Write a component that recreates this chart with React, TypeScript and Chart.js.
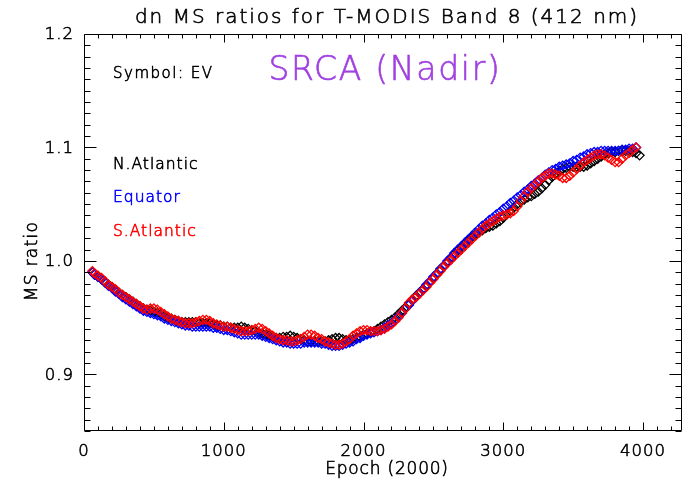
import React, { useEffect, useRef } from 'react';
import { Chart, registerables } from 'chart.js';

Chart.register(...registerables);

// ---------- data ----------
const epochs = [
  60, 75, 100, 125, 150, 175, 200, 225, 250, 275,
  300, 325, 350, 375, 400, 425, 450, 475, 500, 525,
  550, 575, 600, 625, 650, 675, 700, 725, 750, 775,
  800, 825, 850, 875, 900, 925, 950, 975, 1000, 1025,
  1050, 1075, 1100, 1125, 1150, 1175, 1200, 1225, 1250, 1275,
  1300, 1325, 1350, 1375, 1400, 1425, 1450, 1475, 1500, 1525,
  1550, 1575, 1600, 1625, 1650, 1675, 1700, 1725, 1750, 1775,
  1800, 1825, 1850, 1875, 1900, 1925, 1950, 1975, 2000, 2025,
  2050, 2075, 2100, 2125, 2150, 2175, 2200, 2225, 2250, 2275,
  2300, 2325, 2350, 2375, 2400, 2425, 2450, 2475, 2500, 2525,
  2550, 2575, 2600, 2625, 2650, 2675, 2700, 2725, 2750, 2775,
  2800, 2825, 2850, 2875, 2900, 2925, 2950, 2975, 3000, 3025,
  3050, 3075, 3100, 3125, 3150, 3175, 3200, 3225, 3250, 3275,
  3300, 3325, 3350, 3375, 3400, 3425, 3450, 3475, 3500, 3525,
  3550, 3575, 3600, 3625, 3650, 3675, 3700, 3725, 3750, 3775,
  3800, 3825, 3850, 3875, 3900, 3925, 3950, 3975,
];

const nAtlantic = [
  0.990, 0.988, 0.986, 0.984, 0.981, 0.979, 0.977, 0.974, 0.972, 0.970,
  0.968, 0.966, 0.964, 0.962, 0.960, 0.958, 0.957, 0.956, 0.955, 0.954,
  0.953, 0.951, 0.950, 0.949, 0.948, 0.947, 0.946, 0.946, 0.946, 0.946,
  0.946, 0.945, 0.945, 0.945, 0.945, 0.944, 0.943, 0.943, 0.942, 0.942,
  0.941, 0.941, 0.941, 0.942, 0.941, 0.940, 0.939, 0.938, 0.937, 0.936,
  0.935, 0.934, 0.933, 0.932, 0.932, 0.933, 0.933, 0.934, 0.933, 0.932,
  0.931, 0.930, 0.929, 0.929, 0.929, 0.929, 0.929, 0.929, 0.930, 0.931,
  0.932, 0.932, 0.931, 0.930, 0.930, 0.931, 0.932, 0.933, 0.935, 0.936,
  0.937, 0.938, 0.940, 0.942, 0.944, 0.946, 0.948, 0.950, 0.953, 0.956,
  0.959, 0.962, 0.966, 0.969, 0.972, 0.975, 0.978, 0.981, 0.985, 0.988,
  0.992, 0.995, 0.999, 1.002, 1.006, 1.009, 1.012, 1.015, 1.018, 1.021,
  1.023, 1.025, 1.027, 1.029, 1.030, 1.031, 1.033, 1.035, 1.038, 1.041,
  1.044, 1.047, 1.050, 1.052, 1.054, 1.056, 1.057, 1.059, 1.061, 1.064,
  1.067, 1.071, 1.074, 1.077, 1.079, 1.081, 1.082, 1.083, 1.083, 1.083,
  1.083, 1.083, 1.084, 1.086, 1.088, 1.090, 1.092, 1.094, 1.095, 1.096,
  1.096, 1.097, 1.097, 1.097, 1.097, 1.096, 1.095, 1.093,
];

const equator = [
  0.990, 0.988, 0.986, 0.984, 0.981, 0.978, 0.976, 0.973, 0.971, 0.968,
  0.966, 0.964, 0.962, 0.960, 0.958, 0.956, 0.955, 0.954, 0.953, 0.952,
  0.951, 0.949, 0.948, 0.947, 0.946, 0.945, 0.944, 0.943, 0.943, 0.942,
  0.942, 0.942, 0.942, 0.942, 0.942, 0.941, 0.941, 0.940, 0.939, 0.939,
  0.938, 0.937, 0.936, 0.935, 0.935, 0.935, 0.935, 0.935, 0.935, 0.934,
  0.933, 0.932, 0.931, 0.930, 0.929, 0.928, 0.928, 0.927, 0.927, 0.927,
  0.927, 0.928, 0.928, 0.928, 0.928, 0.928, 0.927, 0.927, 0.926, 0.925,
  0.925, 0.925, 0.926, 0.927, 0.928, 0.929, 0.931, 0.932, 0.934, 0.935,
  0.936, 0.937, 0.938, 0.939, 0.941, 0.943, 0.945, 0.948, 0.951, 0.954,
  0.958, 0.961, 0.965, 0.968, 0.972, 0.975, 0.979, 0.982, 0.986, 0.989,
  0.993, 0.996, 1.000, 1.003, 1.007, 1.010, 1.013, 1.016, 1.019, 1.022,
  1.025, 1.028, 1.031, 1.033, 1.036, 1.038, 1.041, 1.043, 1.046, 1.048,
  1.051, 1.053, 1.056, 1.058, 1.061, 1.063, 1.066, 1.068, 1.071, 1.073,
  1.076, 1.078, 1.080, 1.081, 1.083, 1.084, 1.085, 1.086, 1.088, 1.089,
  1.091, 1.092, 1.094, 1.095, 1.096, 1.096, 1.097, 1.097, 1.097, 1.097,
  1.097, 1.097, 1.098, 1.098, 1.099, 1.099, 1.100, null,
];

const sAtlantic = [
  0.991, 0.989, 0.987, 0.985, 0.982, 0.979, 0.977, 0.975, 0.972, 0.970,
  0.968, 0.966, 0.964, 0.962, 0.960, 0.958, 0.957, 0.958, 0.958, 0.957,
  0.955, 0.953, 0.951, 0.949, 0.948, 0.947, 0.946, 0.945, 0.945, 0.945,
  0.946, 0.947, 0.948, 0.948, 0.947, 0.945, 0.944, 0.943, 0.942, 0.942,
  0.941, 0.940, 0.939, 0.938, 0.938, 0.938, 0.939, 0.940, 0.941, 0.940,
  0.938, 0.936, 0.934, 0.932, 0.931, 0.930, 0.930, 0.929, 0.929, 0.930,
  0.931, 0.933, 0.935, 0.935, 0.934, 0.932, 0.931, 0.929, 0.928, 0.927,
  0.926, 0.926, 0.927, 0.929, 0.931, 0.934, 0.936, 0.938, 0.939, 0.939,
  0.938, 0.938, 0.938, 0.939, 0.940, 0.942, 0.944, 0.947, 0.950, 0.954,
  0.958, 0.963, 0.966, 0.968, 0.971, 0.974, 0.977, 0.981, 0.984, 0.988,
  0.991, 0.995, 0.998, 1.001, 1.004, 1.007, 1.010, 1.013, 1.016, 1.019,
  1.022, 1.025, 1.028, 1.031, 1.033, 1.035, 1.037, 1.039, 1.040, 1.041,
  1.042, 1.044, 1.048, 1.053, 1.057, 1.061, 1.064, 1.067, 1.070, 1.073,
  1.075, 1.077, 1.077, 1.076, 1.075, 1.073, 1.073, 1.075, 1.078, 1.081,
  1.084, 1.087, 1.089, 1.091, 1.093, 1.094, 1.094, 1.093, 1.091, 1.089,
  1.087, 1.087, 1.090, 1.093, 1.095, 1.098, 1.100, null,
];

const seriesNames = ['N.Atlantic', 'Equator', 'S.Atlantic'];
const seriesColors = ['#000000', '#0000ff', '#ff0000'];

const xTickValues = [0, 1000, 2000, 3000, 4000];
const xTickLabels = ['0', '1000', '2000', '3000', '4000'];
const yTickValues = [0.9, 1.0, 1.1, 1.2];
const yTickLabels = ['0.9', '1.0', '1.1', '1.2'];

const titleText = 'dn MS ratios for T-MODIS Band 8 (412 nm)';
const subTitleText = 'SRCA (Nadir)';
const symbolText = 'Symbol: EV';
const xTitle = 'Epoch (2000)';
const yTitle = 'MS ratio';

const FONT = '"DejaVu Sans", sans-serif';
const W = '200';
const STROKE = 0.6;

function toPoints(values: (number | null)[]) {
  const pts: { x: number; y: number }[] = [];
  epochs.forEach((x, i) => {
    const y = values[i];
    if (y !== null && y !== undefined) pts.push({ x, y });
  });
  return pts;
}

function drawText(ctx: any, text: string, x: number, y: number, color: string) {
  ctx.fillStyle = color;
  ctx.strokeStyle = color;
  ctx.lineWidth = STROKE;
  ctx.fillText(text, x, y);
  ctx.strokeText(text, x, y);
}

const idlDecor = {
  id: 'idlDecor',
  beforeDraw(chart: any) {
    (chart.ctx as any).letterSpacing = '1px';
  },
  afterDraw(chart: any) {
    const { ctx, chartArea: a, scales } = chart;
    const xs = scales.x;
    const ys = scales.y;
    ctx.save();
    ctx.strokeStyle = '#000';
    ctx.lineWidth = 1;
    const L = Math.round(a.left) + 0.5;
    const R = Math.round(a.right) - 0.5;
    const T = Math.round(a.top) + 0.5;
    const B = Math.round(a.bottom) - 0.5;
    ctx.beginPath();
    ctx.rect(L, T, R - L, B - T);
    ctx.stroke();

    ctx.beginPath();
    for (let i = 0; i * 100 <= xs.max; i++) {
      const px = Math.round(xs.getPixelForValue(i * 100)) + 0.5;
      const len = i % 10 === 0 ? 8 : 4;
      ctx.moveTo(px, B);
      ctx.lineTo(px, B - len);
      ctx.moveTo(px, T);
      ctx.lineTo(px, T + len);
    }
    for (let i = 85; i <= 120; i++) {
      const py = Math.round(ys.getPixelForValue(i / 100)) + 0.5;
      const len = i % 10 === 0 ? 12 : 6;
      ctx.moveTo(L, py);
      ctx.lineTo(L + len, py);
      ctx.moveTo(R, py);
      ctx.lineTo(R - len, py);
    }
    ctx.stroke();

    ctx.textBaseline = 'middle';
    ctx.textAlign = 'center';
    ctx.letterSpacing = '2px';
    ctx.font = `${W} 20px ${FONT}`;
    drawText(ctx, titleText, 387, 18, '#000');

    ctx.letterSpacing = '1.7px';
    ctx.font = `${W} 33px ${FONT}`;
    drawText(ctx, subTitleText, 385, 71, 'rgb(160, 64, 224)');

    ctx.letterSpacing = '0.8px';
    ctx.font = `${W} 17px ${FONT}`;
    drawText(ctx, xTitle, 387, 470, '#000');

    ctx.save();
    ctx.translate(33, 261);
    ctx.rotate(-Math.PI / 2);
    ctx.letterSpacing = '1.3px';
    drawText(ctx, yTitle, 0, 0, '#000');
    ctx.restore();

    ctx.textAlign = 'left';
    ctx.letterSpacing = '1.5px';
    ctx.font = `${W} 15px ${FONT}`;
    drawText(ctx, symbolText, 113, 74, '#000');
    const legendY = [165, 198, 232];
    ctx.letterSpacing = '1px';
    ctx.font = `${W} 15.5px ${FONT}`;
    seriesNames.forEach((n, i) => {
      drawText(ctx, n, 113, legendY[i], seriesColors[i]);
    });
    ctx.restore();
    ctx.letterSpacing = '0px';
  },
};

export default function App() {
  const ref = useRef<HTMLCanvasElement | null>(null);
  useEffect(() => {
    if (!ref.current) return;
    const mk = (idx: number, values: (number | null)[], order: number) => ({
      label: seriesNames[idx],
      data: toPoints(values),
      borderColor: seriesColors[idx],
      backgroundColor: 'rgba(0,0,0,0)',
      pointStyle: 'rectRot',
      pointRadius: 4.5,
      borderWidth: 1.3,
      showLine: false,
      order,
    });
    const tickFont = { family: FONT, size: 16.5, weight: W };
    const chart = new Chart(ref.current, {
      type: 'scatter',
      data: {
        datasets: [mk(2, sAtlantic, 0), mk(1, equator, 1), mk(0, nAtlantic, 2)],
      },
      options: {
        animation: false,
        responsive: false,
        devicePixelRatio: 1,
        events: [],
        layout: { padding: { left: 0, right: 2, top: 34, bottom: 0 } },
        plugins: { legend: { display: false }, tooltip: { enabled: false }, title: { display: false } },
        scales: {
          x: {
            type: 'linear',
            min: 0,
            max: 4280,
            afterBuildTicks: (s: any) => {
              s.ticks = xTickValues.map((value) => ({ value }));
            },
            afterFit: (s: any) => {
              s.height = 54;
              s.paddingLeft = 0;
              s.paddingRight = 0;
            },
            grid: { display: false, drawTicks: false },
            border: { display: false },
            ticks: {
              autoSkip: false,
              maxRotation: 0,
              padding: 11,
              color: '#000',
              textStrokeColor: '#000',
              textStrokeWidth: STROKE,
              font: tickFont,
              callback: (v: any) => xTickLabels[xTickValues.indexOf(Number(v))] ?? '',
            },
          },
          y: {
            type: 'linear',
            min: 0.85,
            max: 1.2,
            afterBuildTicks: (s: any) => {
              s.ticks = yTickValues.map((value) => ({ value }));
            },
            afterFit: (s: any) => {
              s.width = 84;
              s.paddingTop = 0;
              s.paddingBottom = 0;
            },
            grid: { display: false, drawTicks: false },
            border: { display: false },
            ticks: {
              autoSkip: false,
              padding: 10,
              labelOffset: 1,
              color: '#000',
              textStrokeColor: '#000',
              textStrokeWidth: STROKE,
              font: tickFont,
              callback: (v: any) => {
                const i = yTickValues.findIndex((t) => Math.abs(t - Number(v)) < 1e-9);
                return i >= 0 ? yTickLabels[i] : '';
              },
            },
          },
        },
      },
      plugins: [idlDecor],
    } as any);
    return () => chart.destroy();
  }, []);
  return (
    <div style={{ position: 'fixed', left: 0, top: 0, width: 688, height: 485, background: '#fff' }}>
      <canvas ref={ref} width={688} height={485} style={{ display: 'block' }} />
    </div>
  );
}
